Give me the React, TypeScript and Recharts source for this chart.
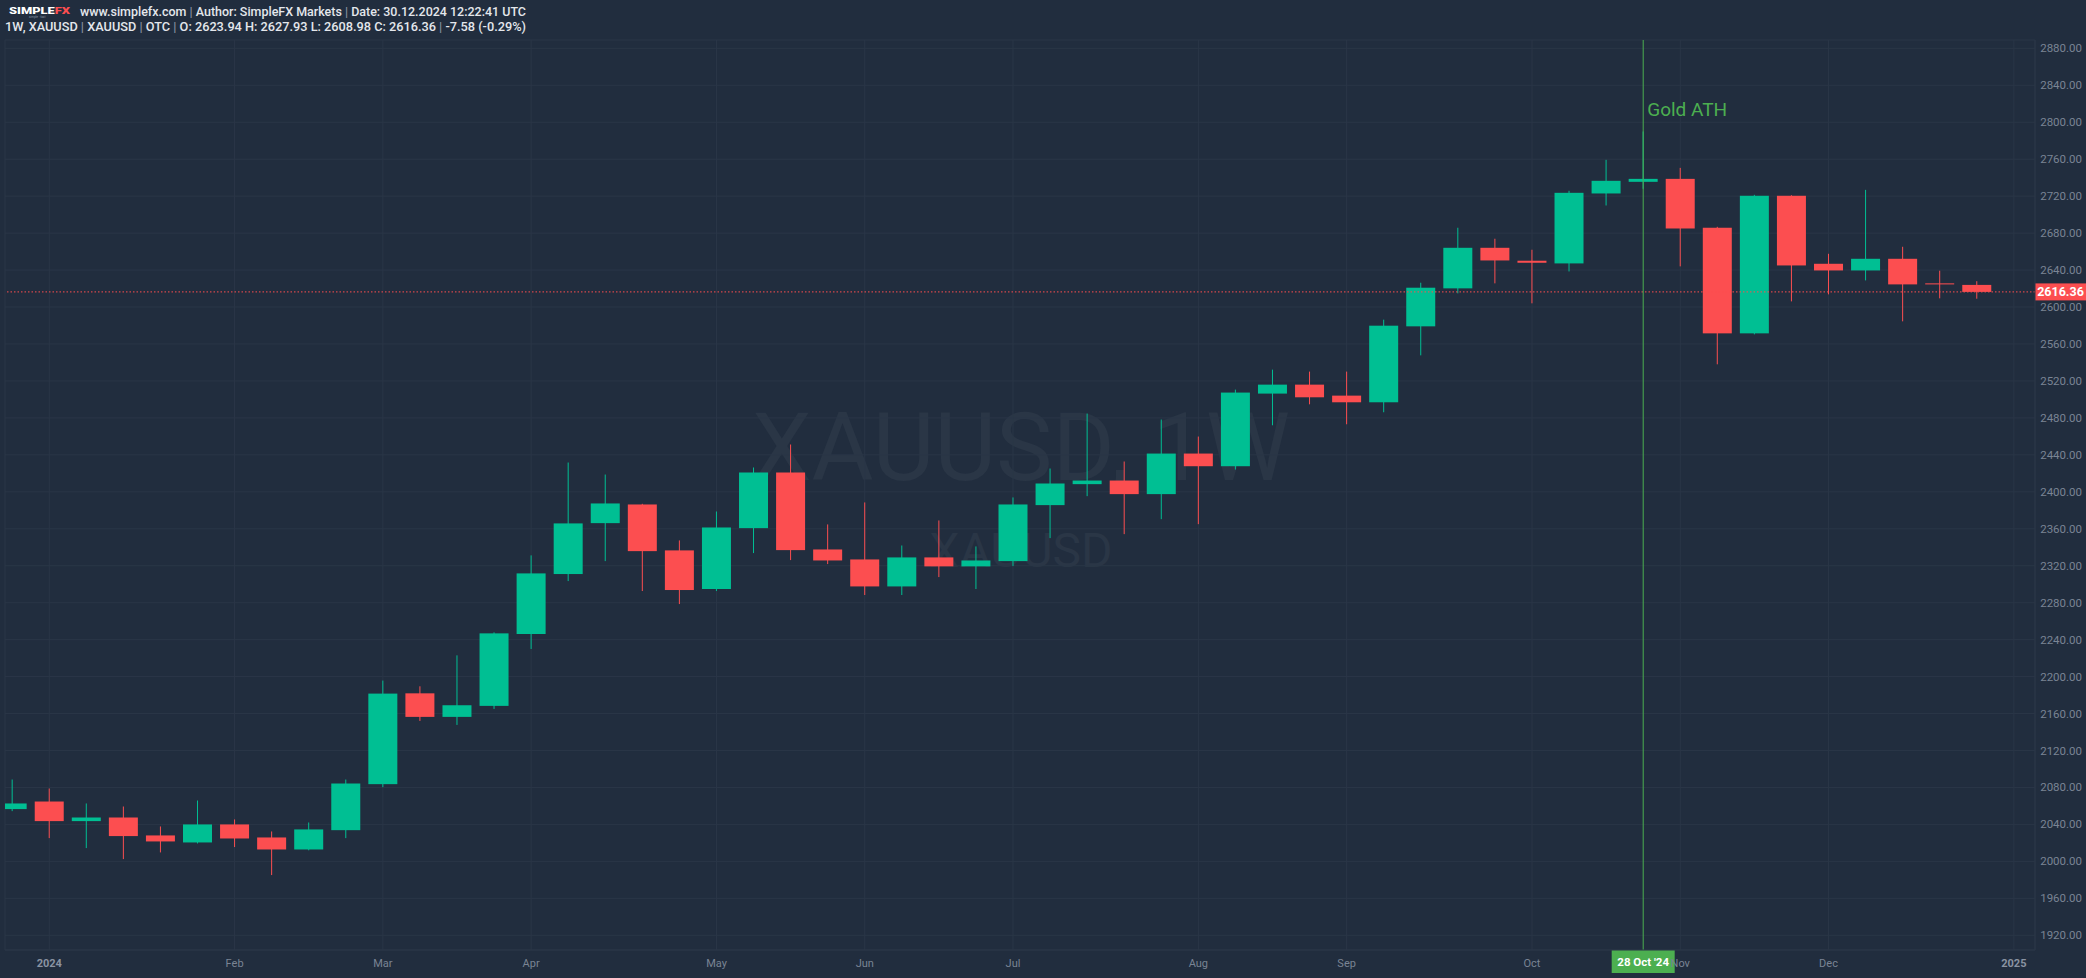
import React from 'react';
import { ComposedChart, Bar, XAxis, YAxis, CartesianGrid, ReferenceLine } from 'recharts';

const BG = '#212d3e';
const GRID = '#2a3647';
const GREEN = '#00bf93';
const RED = '#fc4e50';
const ATH_GREEN = '#4caf50';
const AXIS_TEXT = '#7a8494';

const weeks = [
  '2023-12-25', '2024-01-01', '2024-01-08', '2024-01-15', '2024-01-22', '2024-01-29',
  '2024-02-05', '2024-02-12', '2024-02-19', '2024-02-26', '2024-03-04', '2024-03-11',
  '2024-03-18', '2024-03-25', '2024-04-01', '2024-04-08', '2024-04-15', '2024-04-22',
  '2024-04-29', '2024-05-06', '2024-05-13', '2024-05-20', '2024-05-27', '2024-06-03',
  '2024-06-10', '2024-06-17', '2024-06-24', '2024-07-01', '2024-07-08', '2024-07-15',
  '2024-07-22', '2024-07-29', '2024-08-05', '2024-08-12', '2024-08-19', '2024-08-26',
  '2024-09-02', '2024-09-09', '2024-09-16', '2024-09-23', '2024-09-30', '2024-10-07',
  '2024-10-14', '2024-10-21', '2024-10-28', '2024-11-04', '2024-11-11', '2024-11-18',
  '2024-11-25', '2024-12-02', '2024-12-09', '2024-12-16', '2024-12-23', '2024-12-30',
];

const opens = [
  2056.6, 2064.8, 2043.6, 2047.5, 2028.1, 2020.5, 2040.0, 2025.9, 2012.9, 2033.8,
  2083.6, 2181.9, 2156.4, 2168.3, 2246.1, 2311.0, 2366.1, 2386.3, 2336.6, 2294.8,
  2360.7, 2420.9, 2337.6, 2326.8, 2297.6, 2329.0, 2319.3, 2325.0, 2385.6, 2408.3,
  2412.2, 2397.5, 2441.4, 2427.7, 2506.3, 2516.0, 2504.1, 2496.9, 2579.1, 2620.2,
  2664.1, 2650.1, 2647.2, 2722.9, 2735.5, 2738.7, 2685.8, 2571.5, 2720.4, 2646.8,
  2639.6, 2652.2, 2625.6, 2623.94,
];
const highs = [
  2088.6, 2078.9, 2062.7, 2059.4, 2037.8, 2065.9, 2045.4, 2032.4, 2042.1, 2088.6,
  2195.7, 2189.5, 2223.0, 2247.9, 2331.2, 2431.7, 2418.7, 2387.0, 2347.4, 2378.7,
  2426.3, 2451.2, 2364.7, 2388.5, 2341.9, 2369.0, 2340.9, 2393.9, 2425.2, 2484.7,
  2432.8, 2478.2, 2459.8, 2510.6, 2532.2, 2530.1, 2530.1, 2586.3, 2626.3, 2685.8,
  2673.9, 2662.0, 2725.8, 2759.3, 2790.0, 2750.6, 2686.8, 2721.4, 2721.0, 2657.6,
  2726.8, 2665.2, 2639.3, 2627.93,
];
const lows = [
  2054.4, 2025.2, 2014.4, 2002.5, 2009.7, 2019.4, 2015.5, 1985.2, 2012.0, 2025.2,
  2080.3, 2152.0, 2147.7, 2165.0, 2229.9, 2303.4, 2325.0, 2292.6, 2278.5, 2292.6,
  2333.7, 2326.1, 2321.8, 2288.3, 2288.3, 2307.7, 2294.8, 2319.6, 2349.9, 2395.3,
  2354.2, 2370.4, 2365.0, 2424.1, 2472.0, 2494.7, 2473.1, 2486.1, 2547.7, 2614.8,
  2625.6, 2604.0, 2638.5, 2709.9, 2728.0, 2644.0, 2538.0, 2570.4, 2606.1, 2613.7,
  2628.8, 2584.5, 2609.4, 2608.98,
];
const closes = [
  2062.7, 2043.6, 2047.5, 2027.4, 2021.6, 2040.0, 2024.8, 2012.9, 2034.6, 2084.3,
  2181.6, 2156.4, 2169.0, 2246.8, 2311.7, 2365.8, 2387.4, 2335.8, 2293.7, 2361.4,
  2420.9, 2336.9, 2325.7, 2297.6, 2329.0, 2319.3, 2325.7, 2386.3, 2409.0, 2412.2,
  2397.5, 2441.4, 2427.7, 2507.4, 2516.0, 2502.3, 2496.9, 2579.8, 2620.9, 2664.1,
  2650.4, 2647.9, 2723.6, 2736.6, 2738.7, 2685.0, 2571.5, 2720.4, 2645.0, 2639.6,
  2652.2, 2624.5, 2624.5, 2616.36,
];

const monthTickIdx = [1, 6, 10, 14, 19, 23, 27, 32, 36, 41, 45, 49, 54];
const monthTickLabels = ['2024', 'Feb', 'Mar', 'Apr', 'May', 'Jun', 'Jul', 'Aug', 'Sep', 'Oct', 'Nov', 'Dec', '2025'];
const priceTicks = [
  1920, 1960, 2000, 2040, 2080, 2120, 2160, 2200, 2240, 2280, 2320, 2360, 2400,
  2440, 2480, 2520, 2560, 2600, 2640, 2680, 2720, 2760, 2800, 2840, 2880,
];

const lastPrice = 2616.36;
const athIndex = 44;
const athDateLabel = "28 Oct '24";
const athText = 'Gold ATH';

const data = weeks.map((w, i) => ({
  i,
  week: w,
  open: opens[i],
  high: highs[i],
  low: lows[i],
  close: closes[i],
  range: [lows[i], highs[i]],
}));

const BODY_W = 29;

const Candle = (props: any) => {
  const { x, y, width, height, payload } = props;
  if (!payload) return null;
  const { open, close, high, low } = payload;
  const up = close >= open;
  const color = up ? GREEN : RED;
  const cx = x + width / 2;
  const top = Math.min(y, y + height);
  const h = Math.abs(height);
  const ratio = h / (high - low || 1);
  const bodyTop = top + (high - Math.max(open, close)) * ratio;
  const bodyH = Math.max(Math.abs(open - close) * ratio, 1);
  return (
    <g>
      <line x1={cx} x2={cx} y1={top} y2={top + h} stroke={color} strokeWidth={1} />
      <rect x={cx - BODY_W / 2} y={bodyTop} width={BODY_W} height={bodyH} fill={color} />
    </g>
  );
};

const XTick = (props: any) => {
  const { x, y, payload } = props;
  const idx = monthTickIdx.indexOf(payload.value);
  const label = monthTickLabels[idx] ?? '';
  const isYear = /^\d{4}$/.test(label);
  return (
    <text
      x={x}
      y={y + 9}
      textAnchor="middle"
      fill={isYear ? '#8a93a2' : AXIS_TEXT}
      fontSize={11}
      fontWeight={isYear ? 700 : 400}
      fontFamily="Roboto, sans-serif"
    >
      {label}
    </text>
  );
};

const YTick = (props: any) => {
  const { y, payload } = props;
  return (
    <text
      x={2082}
      y={y + 4}
      textAnchor="end"
      fill={AXIS_TEXT}
      fontSize={11.5}
      fontFamily="Roboto, sans-serif"
    >
      {Number(payload.value).toFixed(2)}
    </text>
  );
};

const PriceLabel = (props: any) => {
  const vb = props.viewBox || {};
  const right = (vb.x ?? 0) + (vb.width ?? 0);
  const cy = vb.y ?? 0;
  return (
    <g>
      <rect x={right} y={cy - 8.5} width={51} height={17} fill={RED} />
      <text
        x={right + 25.5}
        y={cy + 4.5}
        textAnchor="middle"
        fill="#ffffff"
        fontSize={12.5}
        fontWeight={700}
        fontFamily="Roboto, sans-serif"
      >
        {lastPrice.toFixed(2)}
      </text>
    </g>
  );
};

const AthLabel = (props: any) => {
  const vb = props.viewBox || {};
  const x = vb.x ?? 0;
  const top = vb.y ?? 0;
  const bottom = top + (vb.height ?? 0);
  return (
    <g>
      <text
        x={x + 4}
        y={top + 76}
        fill={ATH_GREEN}
        fontSize={19}
        fontFamily="Roboto, sans-serif"
      >
        {athText}
      </text>
      <rect x={x - 31.5} y={bottom} width={63} height={23} fill={ATH_GREEN} />
      <text
        x={x}
        y={bottom + 15.5}
        textAnchor="middle"
        fill="#ffffff"
        fontSize={11.5}
        fontWeight={700}
        fontFamily="Roboto, sans-serif"
      >
        {athDateLabel}
      </text>
    </g>
  );
};

export default function App() {
  return (
    <div style={{ position: 'relative', width: 2086, height: 978, background: BG, overflow: 'hidden' }}>
      <style>{`body{margin:0;background:${BG};}`}</style>
      <svg width={2086} height={978} style={{ position: 'absolute', left: 0, top: 0 }}>
        <text
          x={1021}
          y={480}
          textAnchor="middle"
          fill="#2a3646"
          fontSize={95}
          fontFamily="Roboto, sans-serif"
        >
          XAUUSD, 1W
        </text>
        <text
          x={1021}
          y={567}
          textAnchor="middle"
          fill="#2a3646"
          fontSize={48}
          fontFamily="Roboto, sans-serif"
        >
          XAUUSD
        </text>
      </svg>
      <div style={{ position: 'absolute', left: 0, top: 0 }}>
        <ComposedChart
          width={2086}
          height={978}
          data={data}
          margin={{ top: 40, right: 0, bottom: 0, left: 5 }}
        >
          <CartesianGrid stroke={GRID} strokeWidth={1} />
          <XAxis
            dataKey="i"
            type="number"
            domain={[-0.194, 54.57]}
            allowDataOverflow
            ticks={monthTickIdx}
            interval={0}
            tick={<XTick />}
            tickLine={false}
            axisLine={{ stroke: GRID }}
            height={28}
          />
          <YAxis
            orientation="right"
            domain={[1904.1, 2889.0]}
            allowDataOverflow
            ticks={priceTicks}
            interval={0}
            tick={<YTick />}
            tickLine={false}
            axisLine={{ stroke: GRID }}
            width={51}
          />
          <ReferenceLine
            y={lastPrice}
            stroke={RED}
            strokeWidth={1}
            strokeDasharray="1.5 2"
            label={<PriceLabel />}
          />
          <Bar
            dataKey="range"
            barSize={BODY_W}
            shape={<Candle />}
            isAnimationActive={false}
          />
          <ReferenceLine
            x={athIndex}
            stroke={ATH_GREEN}
            strokeWidth={1}
            label={<AthLabel />}
          />
        </ComposedChart>
      </div>
      <svg width={2086} height={40} style={{ position: 'absolute', left: 0, top: 0 }}>
        <text x={9} y={13.5} fontSize={8.5} fontWeight={900} fontFamily="Roboto, sans-serif" textLength={61} lengthAdjust="spacingAndGlyphs">
          <tspan fill="#ffffff">SIMPLE</tspan>
          <tspan fill={RED}>FX</tspan>
        </text>
        <text x={29} y={17.5} fontSize={3} fill="#8a93a2" fontFamily="Roboto, sans-serif">simple · fast</text>
        <text
          x={80}
          y={15.5}
          fontSize={12.5}
          fontWeight={500}
          fill="#e4e7ec"
          fontFamily="Roboto, sans-serif"
          textLength={446}
          lengthAdjust="spacingAndGlyphs"
        >
          www.simplefx.com <tspan fill="#8a93a2">|</tspan> Author: SimpleFX Markets <tspan fill="#8a93a2">|</tspan> Date: 30.12.2024 12:22:41 UTC
        </text>
        <text
          x={5}
          y={30.5}
          fontSize={12.5}
          fontWeight={500}
          fill="#e4e7ec"
          fontFamily="Roboto, sans-serif"
          textLength={521}
          lengthAdjust="spacingAndGlyphs"
        >
          1W, XAUUSD <tspan fill="#8a93a2">|</tspan> XAUUSD <tspan fill="#8a93a2">|</tspan> OTC <tspan fill="#8a93a2">|</tspan> O: 2623.94 H: 2627.93 L: 2608.98 C: 2616.36 <tspan fill="#8a93a2">|</tspan> -7.58 (-0.29%)
        </text>
      </svg>
    </div>
  );
}
